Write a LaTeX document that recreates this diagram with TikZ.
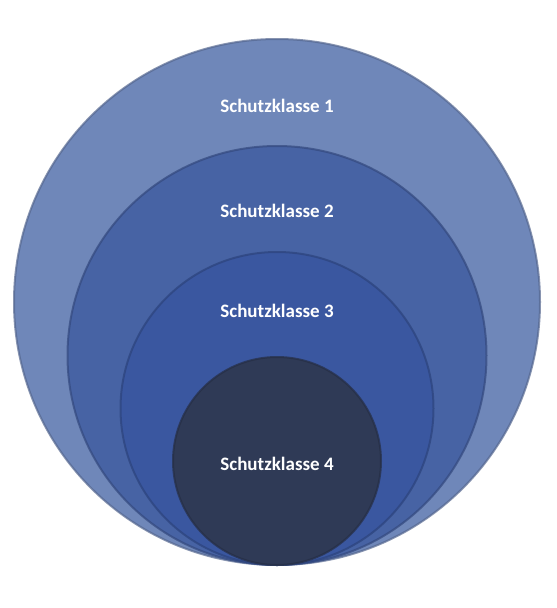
\documentclass[tikz,border=0pt]{standalone}
\usepackage{fontspec}
\setmainfont{Carlito}
\definecolor{klasseA}{HTML}{6F87B9}
\definecolor{klasseB}{HTML}{4763A4}
\definecolor{klasseC}{HTML}{3A57A0}
\definecolor{klasseD}{HTML}{2F3A56}
\definecolor{randA}{HTML}{55678F}
\definecolor{randB}{HTML}{34497E}
\definecolor{randC}{HTML}{2C437C}
\definecolor{randD}{HTML}{262E44}

\begin{document}
\begin{tikzpicture}[x=1pt,y=-1pt]
\useasboundingbox (0,0) rectangle (557,608);
% concentric classes, all touching at the bottom
\foreach \i/\r/\fillc/\edgec/\ty in {1/263/klasseA/randA/112, 2/209.5/klasseB/randB/217, 3/156.5/klasseC/randC/317, 4/104/klasseD/randD/470} {
 \filldraw[fill=\fillc, draw=\edgec, draw opacity=.7, line width=2pt] (277,565-\r) circle (\r pt);
 \node[text=white, anchor=base, inner sep=0, font=\bfseries\fontsize{19}{22}\selectfont] (klasse\i) at (277,\ty) {Schutzklasse \i};
}
\end{tikzpicture}
\end{document}
